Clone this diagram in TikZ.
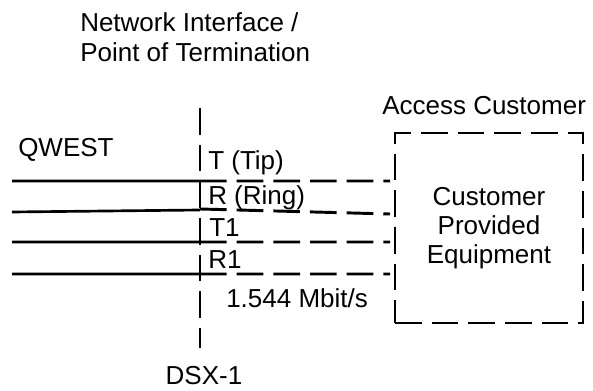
\documentclass[tikz,border=0pt]{standalone}
\usepackage{fontspec}
\setmainfont{Liberation Sans}
\usetikzlibrary{shapes,positioning}

\begin{document}
\begin{tikzpicture}[x=0.75pt,y=-0.75pt,
    font=\fontsize{19.5}{22.5}\selectfont,
    wire/.style={line width=2pt},
    link/.style={line width=2.2pt,dash pattern=on 20pt off 7.5pt},
    label/.style={inner sep=0,anchor=base west}]

\useasboundingbox (0,0) rectangle (593,391);

% Titles
\node[label,align=left] (nid) at (80,62) {Network Interface /\\Point of Termination};
\node[label] (qwest) at (18,157) {QWEST};
\node[label] (access) at (382,115) {Access Customer};

% Demarcation line
\coordinate (dtop) at (200,108);
\coordinate (dbot) at (200,348);
\draw[link] (dtop) -- (dbot);
\node[inner sep=0,anchor=base] (dsx) at (204,385) {DSX-1};

% Customer block
\node[draw,
    link,
    rectangle,
    minimum width=141pt,
    minimum height=142.5pt,
    align=center,
    font=\fontsize{19.5}{21.75}\selectfont] (cpe) at (489,228) {Customer\\Provided\\Equipment};

% Wire ends
\coordinate (tl) at (12,181);  \coordinate (tm) at (200,181);  \coordinate (tr) at (390,181);
\coordinate (rl) at (12,212);  \coordinate (rm) at (200,210);  \coordinate (rn) at (200,209);
\coordinate (rr) at (390,214);
\coordinate (t1l) at (12,242); \coordinate (t1m) at (200,242); \coordinate (t1r) at (390,242);
\coordinate (r1l) at (12,274); \coordinate (r1m) at (200,274); \coordinate (r1r) at (390,274);

% Wires
\draw[wire] (tl) -- (tm)
    (rl) -- (rm)
    (t1l) -- (t1m)
    (r1l) -- (r1m);

\draw[link] (tm) -- (tr)
    (rn) -- (rr)
    (t1m) -- (t1r)
    (r1m) -- (r1r);

% Wire labels
\node[label] (tip) at (208,170) {T (Tip)};
\node[label] (ring) at (208,205) {R (Ring)};
\node[label] (t1) at (209,237) {T1};
\node[label] (r1) at (208,269) {R1};
\node[label] (rate) at (226,308) {1.544 Mbit/s};

\end{tikzpicture}
\end{document}
